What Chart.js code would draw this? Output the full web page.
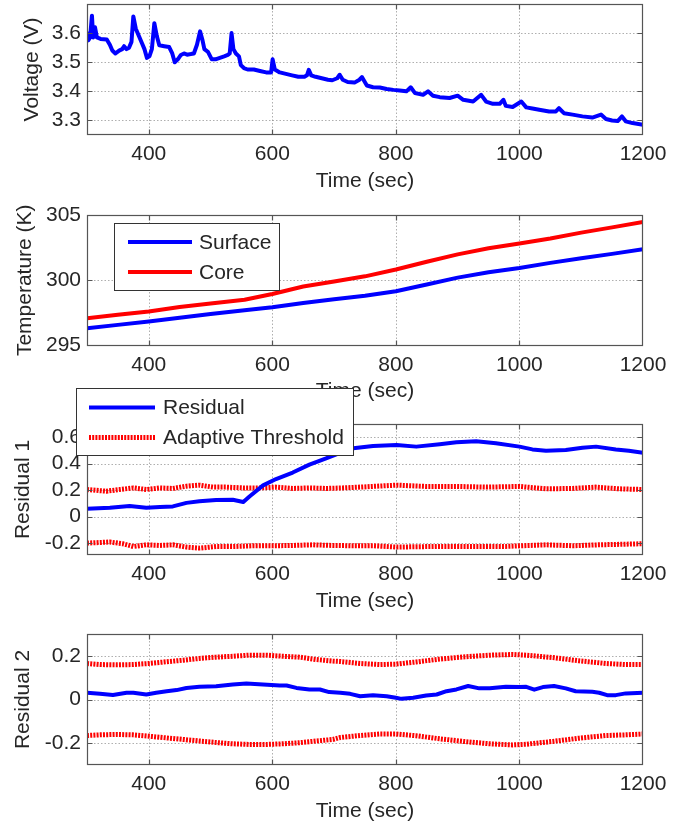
<!DOCTYPE html>
<html>
<head>
<meta charset="utf-8">
<script src="https://cdn.jsdelivr.net/npm/chart.js@4.4.1/dist/chart.umd.min.js"></script>
<style>
html,body{margin:0;padding:0;background:#ffffff;}
#wrap{position:relative;width:681px;height:824px;overflow:hidden;background:#fff;}
canvas{position:absolute;left:0;}
</style>
</head>
<body>
<div id="wrap">
<canvas id="c1"></canvas>
<canvas id="c2"></canvas>
<canvas id="c3"></canvas>
<canvas id="c4"></canvas>
</div>
<script>
// ---------------- DATA ----------------
const xTickValues = [400, 600, 800, 1000, 1200];
const xTitle = 'Time (sec)';

// Panel 1: terminal voltage
const voltageTicks = [3.3, 3.4, 3.5, 3.6];
const voltageTime = [300,302,305,308,310,313,316,322,332,337,341,346,352,357,360,364,368,372,375,379,384,389,393,397,401,405,409,413,417,425,433,438,442,447,452,457,462,468,473,478,483,487,490,496,502,508,515,522,528,531,534,537,541,546,549,554,560,570,580,590,598,600.5,604,612,622,632,642,652,656,659,663,670,680,690,697,705,709,714,722,733,741,745,753,763,774,785,796,806,817,824,831,844,852,860,871,887,900,909,925,938,946,957,968,974,978,989,1003,1011,1021,1032,1048,1059,1064,1072,1086,1102,1118,1132,1140,1150,1159,1166,1172,1183,1200];
const voltage = [3.60,3.575,3.585,3.66,3.585,3.62,3.585,3.58,3.578,3.56,3.54,3.53,3.54,3.545,3.555,3.545,3.55,3.57,3.657,3.615,3.59,3.565,3.545,3.515,3.52,3.545,3.634,3.59,3.558,3.555,3.552,3.53,3.50,3.51,3.525,3.53,3.526,3.528,3.53,3.56,3.606,3.575,3.545,3.535,3.51,3.51,3.515,3.52,3.525,3.53,3.60,3.545,3.53,3.52,3.49,3.48,3.475,3.475,3.47,3.465,3.465,3.51,3.475,3.465,3.46,3.455,3.45,3.45,3.455,3.474,3.455,3.45,3.445,3.44,3.438,3.445,3.457,3.44,3.432,3.43,3.44,3.449,3.42,3.414,3.413,3.408,3.405,3.403,3.40,3.414,3.394,3.388,3.40,3.385,3.38,3.377,3.385,3.371,3.365,3.388,3.365,3.357,3.357,3.371,3.35,3.346,3.365,3.345,3.341,3.337,3.331,3.331,3.342,3.325,3.32,3.314,3.31,3.32,3.305,3.30,3.298,3.314,3.297,3.291,3.285];

// Panel 2: temperatures
const tempTicks = [295, 300, 305];
const tempTime = [300,350,400,450,500,555,600,650,700,750,800,850,900,950,1000,1050,1100,1150,1200];
const surfaceTemp = [296.33,296.58,296.84,297.13,297.42,297.70,297.93,298.26,298.55,298.82,299.16,299.67,300.20,300.62,300.94,301.33,301.69,302.02,302.37];
const coreTemp = [297.09,297.36,297.60,297.95,298.21,298.50,298.95,299.52,299.90,300.30,300.82,301.42,301.98,302.45,302.81,303.20,303.65,304.05,304.47];

// Panel 3: residual 1 and adaptive threshold
const res1Ticks = [-0.2, 0, 0.2, 0.4, 0.6];
const res1Time = [300,337,369,396,418,439,461,482,509,536,553,563,585,606,633,660,687,714,731,763,801,833,871,898,930,962,1000,1021,1043,1075,1102,1124,1156,1177,1200];
const residual1 = [0.06,0.067,0.08,0.067,0.072,0.077,0.104,0.116,0.125,0.128,0.111,0.152,0.236,0.284,0.333,0.393,0.441,0.489,0.516,0.534,0.541,0.529,0.547,0.562,0.569,0.554,0.529,0.508,0.498,0.503,0.521,0.529,0.508,0.498,0.483];
const thr1UpperTime = [300,331,353,375,396,418,439,461,482,504,525,553,579,606,633,660,687,714,742,801,849,898,946,1000,1043,1086,1124,1161,1200];
const thr1Upper = [0.205,0.192,0.205,0.217,0.205,0.217,0.213,0.23,0.238,0.223,0.223,0.217,0.217,0.223,0.213,0.217,0.213,0.217,0.223,0.238,0.228,0.228,0.223,0.228,0.21,0.213,0.223,0.21,0.205];
const thr1LowerTime = [300,337,358,375,396,418,439,461,482,509,536,569,601,633,666,698,730,763,801,871,925,978,1043,1086,1129,1200];
const thr1Lower = [-0.2,-0.192,-0.205,-0.226,-0.213,-0.218,-0.213,-0.23,-0.238,-0.226,-0.226,-0.22,-0.22,-0.218,-0.213,-0.218,-0.22,-0.22,-0.23,-0.225,-0.225,-0.225,-0.213,-0.22,-0.213,-0.205];

// Panel 4: residual 2 and adaptive threshold
const res2Ticks = [-0.2, 0, 0.2];
const res2Time = [300,321,342,364,375,396,412,429,445,461,482,509,536,558,585,612,623,639,660,677,692,710,726,742,763,785,800,809,828,849,866,882,898,917,935,952,978,1000,1011,1024,1038,1056,1075,1091,1118,1129,1142,1156,1172,1200];
const residual2 = [0.031,0.026,0.021,0.031,0.031,0.023,0.031,0.038,0.043,0.053,0.058,0.061,0.069,0.073,0.069,0.064,0.064,0.053,0.046,0.046,0.034,0.031,0.026,0.015,0.02,0.015,0.008,0.003,0.008,0.018,0.023,0.038,0.046,0.062,0.051,0.051,0.058,0.057,0.058,0.045,0.057,0.062,0.051,0.038,0.035,0.031,0.02,0.02,0.028,0.031];
const thr2Time = [300,321,348,375,400,429,456,482,509,536,563,590,617,644,671,698,710,742,774,800,833,871,909,952,989,1011,1054,1097,1140,1172,1200];
const thr2Upper = [0.165,0.16,0.159,0.16,0.165,0.173,0.18,0.188,0.194,0.198,0.203,0.203,0.198,0.194,0.183,0.176,0.174,0.165,0.16,0.162,0.172,0.185,0.195,0.203,0.206,0.203,0.192,0.177,0.165,0.16,0.16];
const thr2Lower = [-0.165,-0.162,-0.16,-0.162,-0.168,-0.176,-0.183,-0.19,-0.197,-0.203,-0.206,-0.206,-0.203,-0.198,-0.19,-0.183,-0.174,-0.165,-0.158,-0.158,-0.166,-0.18,-0.192,-0.203,-0.208,-0.205,-0.192,-0.177,-0.165,-0.162,-0.158];

// ---------------- STYLE ----------------
const FONT = '"Liberation Sans", Arial, Helvetica, sans-serif';
const TEXT = '#262626';
const BLUE = '#0000ff';
const RED = '#ff0000';
const DOT = [2, 1.2];

function pts(xs, ys){ return xs.map((x, i) => ({x: x, y: ys[i]})); }

const framePlugin = {
  id: 'matlabFrame',
  beforeDatasetsDraw(chart){
    const {ctx, chartArea: a, scales: {x, y}} = chart;
    ctx.save();
    ctx.strokeStyle = 'rgba(110,110,110,0.55)';
    ctx.lineWidth = 1;
    ctx.setLineDash([1.5, 2]);
    x.ticks.forEach(t => {
      const px = Math.round(x.getPixelForValue(t.value)) + 0.5;
      if (px > a.left + 2 && px < a.right - 2) {
        ctx.beginPath(); ctx.moveTo(px, a.top); ctx.lineTo(px, a.bottom); ctx.stroke();
      }
    });
    y.ticks.forEach(t => {
      const py = Math.round(y.getPixelForValue(t.value)) + 0.5;
      if (py > a.top + 2 && py < a.bottom - 2) {
        ctx.beginPath(); ctx.moveTo(a.left, py); ctx.lineTo(a.right, py); ctx.stroke();
      }
    });
    ctx.restore();
  },
  afterDatasetsDraw(chart){
    const {ctx, chartArea: a, scales: {x, y}} = chart;
    ctx.save();
    ctx.strokeStyle = '#555555';
    ctx.lineWidth = 1.2;
    ctx.setLineDash([]);
    const L = Math.round(a.left) + 0.5, R = Math.round(a.right) - 0.5;
    const T = Math.round(a.top) + 0.5, B = Math.round(a.bottom) - 0.5;
    ctx.strokeRect(L, T, R - L, B - T);
    const tl = 5;
    ctx.beginPath();
    x.ticks.forEach(t => {
      const px = Math.round(x.getPixelForValue(t.value)) + 0.5;
      if (px > a.left + 2 && px < a.right - 2) {
        ctx.moveTo(px, B); ctx.lineTo(px, B - tl);
        ctx.moveTo(px, T); ctx.lineTo(px, T + tl);
      }
    });
    y.ticks.forEach(t => {
      const py = Math.round(y.getPixelForValue(t.value)) + 0.5;
      if (py > a.top + 2 && py < a.bottom - 2) {
        ctx.moveTo(L, py); ctx.lineTo(L + tl, py);
        ctx.moveTo(R, py); ctx.lineTo(R - tl, py);
      }
    });
    ctx.stroke();
    ctx.restore();
  }
};

const boxLegendPlugin = {
  id: 'boxLegend',
  afterDraw(chart, args, opts){
    if (!opts || !opts.items) return;
    const ctx = chart.ctx;
    const b = opts.box;
    ctx.save();
    ctx.fillStyle = '#ffffff';
    ctx.fillRect(b.x1, b.y1, b.x2 - b.x1, b.y2 - b.y1);
    ctx.strokeStyle = '#333333';
    ctx.lineWidth = 1;
    ctx.strokeRect(b.x1 + 0.5, b.y1 + 0.5, b.x2 - b.x1 - 1, b.y2 - b.y1 - 1);
    opts.items.forEach(it => {
      ctx.beginPath();
      ctx.strokeStyle = it.color;
      ctx.lineWidth = it.width;
      ctx.setLineDash(it.dash || []);
      ctx.lineCap = 'butt';
      ctx.moveTo(opts.lineX1, it.y); ctx.lineTo(opts.lineX2, it.y);
      ctx.stroke();
      ctx.setLineDash([]);
      ctx.fillStyle = TEXT;
      ctx.font = '21px ' + FONT;
      ctx.textAlign = 'left';
      ctx.textBaseline = 'middle';
      ctx.fillText(it.label, opts.textX, it.y + 1);
    });
    ctx.restore();
  }
};

function makePanel(cfg){
  const cv = document.getElementById(cfg.id);
  cv.width = 681; cv.height = cfg.height;
  cv.style.top = cfg.top + 'px';
  cv.style.width = '681px'; cv.style.height = cfg.height + 'px';
  const boxTop = cfg.boxTop - cfg.top;
  const boxBottom = cfg.boxBottom - cfg.top;
  const xAxisH = cfg.height - boxBottom;
  const titleMid = cfg.titleMid - cfg.top;
  return new Chart(cv, {
    type: 'line',
    data: {datasets: cfg.datasets},
    plugins: [framePlugin, boxLegendPlugin],
    options: {
      responsive: false,
      animation: false,
      devicePixelRatio: 1,
      layout: {padding: {left: 0, right: 38, top: boxTop, bottom: 0}},
      elements: {point: {radius: 0}, line: {tension: 0}},
      plugins: {
        legend: {display: false},
        tooltip: {enabled: false},
        boxLegend: cfg.legend || {}
      },
      scales: {
        x: {
          type: 'linear', min: 300, max: 1200,
          afterBuildTicks: s => { s.ticks = xTickValues.map(v => ({value: v})); },
          afterFit: s => { s.height = xAxisH; s.paddingLeft = 0; s.paddingRight = 0; },
          grid: {display: false, drawTicks: false},
          border: {display: false},
          ticks: {autoSkip: false, maxRotation: 0, padding: 7, color: TEXT,
                  font: {family: FONT, size: 21},
                  callback: v => String(v)},
          title: {display: true, text: xTitle, color: TEXT,
                  font: {family: FONT, size: 21},
                  padding: {top: 0, bottom: cfg.height - titleMid - 12.6}}
        },
        y: {
          type: 'linear', min: cfg.ymin, max: cfg.ymax,
          afterBuildTicks: s => { s.ticks = cfg.yticks.map(v => ({value: v})); },
          afterFit: s => { s.width = 87; s.paddingTop = 0; s.paddingBottom = 0; },
          grid: {display: false, drawTicks: false},
          border: {display: false},
          ticks: {autoSkip: false, padding: 6, color: TEXT,
                  font: {family: FONT, size: 21},
                  callback: v => String(v)},
          title: {display: true, text: cfg.ylabel, color: TEXT,
                  font: {family: FONT, size: 21},
                  padding: {top: cfg.ylabelX - 12.6, bottom: 0}}
        }
      }
    }
  });
}

function solid(data, color){ return {data: data, borderColor: color, borderWidth: 4, borderJoinStyle: 'round', borderCapStyle: 'round', fill: false, pointRadius: 0}; }
function dotted(data, color){ return {data: data, borderColor: color, borderWidth: 5, borderDash: DOT, borderCapStyle: 'butt', borderJoinStyle: 'round', fill: false, pointRadius: 0}; }

makePanel({
  id: 'c1', top: -10, height: 210, boxTop: 4, boxBottom: 135, titleMid: 181,
  ymin: 3.25, ymax: 3.70, yticks: voltageTicks, ylabel: 'Voltage (V)', ylabelX: 32,
  datasets: [solid(pts(voltageTime, voltage), BLUE)]
});

makePanel({
  id: 'c2', top: 200, height: 205, boxTop: 215, boxBottom: 345.5, titleMid: 391.5,
  ymin: 295, ymax: 305, yticks: tempTicks, ylabel: 'Temperature (K)', ylabelX: 25,
  datasets: [solid(pts(tempTime, surfaceTemp), BLUE), solid(pts(tempTime, coreTemp), RED)],
  legend: {
    box: {x1: 114, y1: 23, x2: 280, y2: 91},
    lineX1: 128, lineX2: 192, textX: 199,
    items: [
      {label: 'Surface', color: BLUE, width: 4, y: 42},
      {label: 'Core', color: RED, width: 4, y: 72}
    ]
  }
});

makePanel({
  id: 'c3', top: 380, height: 240, boxTop: 424, boxBottom: 555, titleMid: 601,
  ymin: -0.29, ymax: 0.70, yticks: res1Ticks, ylabel: 'Residual 1', ylabelX: 23.5,
  datasets: [
    solid(pts(res1Time, residual1), BLUE),
    dotted(pts(thr1UpperTime, thr1Upper), RED),
    dotted(pts(thr1LowerTime, thr1Lower), RED)
  ],
  legend: {
    box: {x1: 76, y1: 8, x2: 354, y2: 76},
    lineX1: 89, lineX2: 155, textX: 163,
    items: [
      {label: 'Residual', color: BLUE, width: 4, y: 27.5},
      {label: 'Adaptive Threshold', color: RED, width: 5, dash: DOT, y: 57.5}
    ]
  }
});

makePanel({
  id: 'c4', top: 615, height: 209, boxTop: 634, boxBottom: 765, titleMid: 811,
  ymin: -0.3, ymax: 0.3, yticks: res2Ticks, ylabel: 'Residual 2', ylabelX: 23.5,
  datasets: [
    solid(pts(res2Time, residual2), BLUE),
    dotted(pts(thr2Time, thr2Upper), RED),
    dotted(pts(thr2Time, thr2Lower), RED)
  ]
});
</script>
</body>
</html>
